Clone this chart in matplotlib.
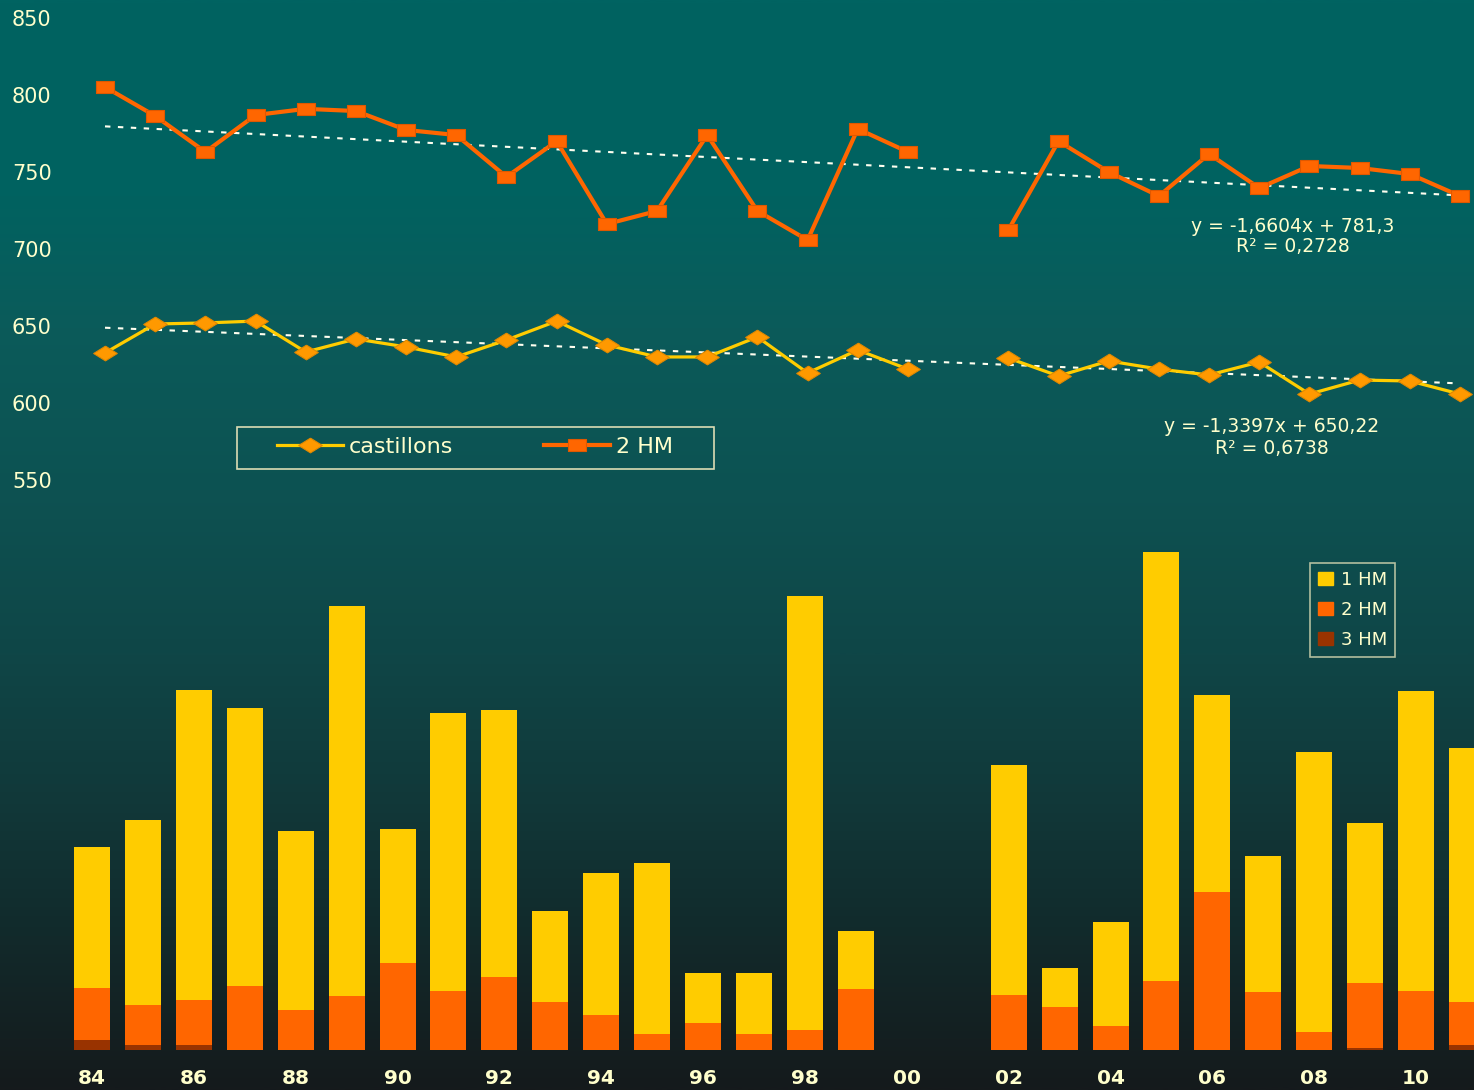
import numpy as np
import matplotlib
matplotlib.use('Agg')
import matplotlib.pyplot as plt
from matplotlib.colors import LinearSegmentedColormap
from matplotlib.lines import Line2D
from matplotlib.patches import Rectangle, Patch

plt.rcParams['font.family'] = ['DejaVu Sans']

# ---------------- data ----------------
years = ['84', '85', '86', '87', '88', '89', '90', '91', '92', '93', '94', '95', '96', '97',
         '98', '99', '00', '01', '02', '03', '04', '05', '06', '07', '08', '09', '10', '11']
nan = np.nan
castillons = [632.5, 651.3, 652.0, 653.2, 633.1, 641.6, 636.4, 629.9, 640.9, 653.2, 637.7, 629.9,
              629.9, 642.9, 619.5, 634.4, 622.0, nan, 629.2, 617.5, 627.3, 622.0, 618.2, 626.6,
              605.8, 614.9, 614.3, 605.8]
hm2_line = [805.2, 786.4, 763.0, 787.0, 791.0, 789.6, 777.3, 774.0, 746.8, 770.0, 716.2, 724.7,
            774.0, 724.7, 705.8, 778.0, 763.0, nan, 712.3, 770.0, 750.0, 734.4, 761.7, 739.6,
            753.9, 752.6, 748.7, 734.4]
# linear trends (as printed on the chart, x = 1..28)
trend_castillons = [-1.3397, 650.22]
trend_hm2 = [-1.6604, 781.3]
trend_text_castillons = ['y = -1,3397x + 650,22', 'R² = 0,6738']
trend_text_hm2 = ['y = -1,6604x + 781,3', 'R² = 0,2728']

bar_1hm = [141, 185, 310, 278, 179, 390, 134, 278, 267, 91, 142, 171, 50, 61, 434, 58, 0, 0,
           230, 39, 104, 429, 197, 136, 280, 160, 300, 254]
bar_2hm = [52, 40, 45, 64, 40, 54, 87, 59, 73, 48, 35, 16, 27, 16, 20, 61, 0, 0,
           55, 43, 24, 69, 158, 58, 18, 65, 59, 43]
bar_3hm = [10, 5, 5, 0, 0, 0, 0, 0, 0, 0, 0, 0, 0, 0, 0, 0, 0, 0,
           0, 0, 0, 0, 0, 0, 0, 2, 0, 5]
y_ticks = [550, 600, 650, 700, 750, 800, 850]

# ---------------- styling ----------------
W, H = 1474, 1090
CREAM = '#ffffcc'
C_YEL_LINE = '#ffcc00'
C_DIAM = '#ff9900'
C_ORANGE = '#ff6600'
C_1HM = '#ffcc00'
C_2HM = '#ff6600'
C_3HM = '#993300'

def fx(px):
    return px / W

def fy(py):
    return 1 - py / H

fig = plt.figure(figsize=(W / 100, H / 100), dpi=100)

# background gradient
bg = fig.add_axes([0, 0, 1, 1], zorder=0)
cmap = LinearSegmentedColormap.from_list('bg', [
    (0.0, '#006361'), (0.18, '#016260'), (0.30, '#0b5b5a'), (0.45, '#0d5252'),
    (0.60, '#0f4647'), (0.72, '#113a3b'), (0.86, '#122a2b'), (1.0, '#151a1c')])
grad = np.linspace(0, 1, 512).reshape(-1, 1)
bg.imshow(grad, aspect='auto', cmap=cmap, extent=[0, 1, 0, 1], origin='upper')
bg.set_axis_off()

x = np.arange(len(years))

# ---------------- line chart ----------------
ppu = (1460 - 105) / 27.0
ax1 = fig.add_axes([0, fy(480), 1, (480 - 18) / H], zorder=2)
ax1.patch.set_alpha(0)
ax1.set_xlim(-105 / ppu, (W - 105) / ppu)
ax1.set_ylim(550, 850)

xt = np.array([x[0], x[-1]])
ax1.plot(xt, trend_hm2[0] * (xt + 1) + trend_hm2[1], color='#fffff0', lw=1.5,
         linestyle=(0, (2.6, 3.6)), zorder=2)
ax1.plot(xt, trend_castillons[0] * (xt + 1) + trend_castillons[1], color='#fffff0', lw=1.5,
         linestyle=(0, (2.6, 3.6)), zorder=2)

sq = [(-1.5, -1), (1.5, -1), (1.5, 1), (-1.5, 1), (-1.5, -1)]
dia = [(0, 1), (1.6, 0), (0, -1), (-1.6, 0), (0, 1)]
ax1.plot(x, hm2_line, color=C_ORANGE, lw=3, marker=sq, ms=13, mfc=C_ORANGE,
         mec='#e05800', mew=0.8, zorder=3, clip_on=False)
ax1.plot(x, castillons, color=C_YEL_LINE, lw=2.3, marker=dia, ms=17, mfc=C_DIAM,
         mec='#e08800', mew=0.8, zorder=4, clip_on=False)

ax1.set_yticks(y_ticks)
ax1.set_yticklabels([str(v) for v in y_ticks])
ax1.tick_params(axis='y', length=0, pad=-8.6, labelsize=15, labelcolor=CREAM)
for lab in ax1.get_yticklabels():
    lab.set_horizontalalignment('left')
ax1.set_xticks([])
for s in ax1.spines.values():
    s.set_visible(False)

# trend equations
fig.text(fx(1293), fy(226), trend_text_hm2[0], ha='center', va='center', fontsize=13.5, color=CREAM)
fig.text(fx(1293), fy(247), trend_text_hm2[1], ha='center', va='center', fontsize=13.5, color=CREAM)
fig.text(fx(1272), fy(427), trend_text_castillons[0], ha='center', va='center', fontsize=13.5, color=CREAM)
fig.text(fx(1272), fy(448), trend_text_castillons[1], ha='center', va='center', fontsize=13.5, color=CREAM)

# line legend
fig.patches.append(Rectangle((fx(237), fy(469)), fx(714) - fx(237), fy(427) - fy(469),
                             transform=fig.transFigure, fill=False, edgecolor='#dcdcb4',
                             lw=1.2, zorder=5))
h1 = Line2D([], [], color=C_YEL_LINE, lw=2.3, marker=dia, ms=17, mfc=C_DIAM, mec='#e08800', mew=0.8)
h2 = Line2D([], [], color=C_ORANGE, lw=3, marker=sq, ms=13, mfc=C_ORANGE, mec='#e05800', mew=0.8)
leg1 = fig.legend([h1, h2], ['castillons', '2 HM'], loc='center left',
                  bbox_to_anchor=(fx(277), fy(447)), bbox_transform=fig.transFigure,
                  ncol=2, frameon=False, fontsize=16, labelcolor=CREAM, borderpad=0,
                  borderaxespad=0, handlelength=2.97, handletextpad=0.27, columnspacing=4.1)

# ---------------- bar chart ----------------
bppu = (1467 - 92) / 27.0
ax2 = fig.add_axes([0, fy(1050), 1, 550 / H], zorder=2)
ax2.patch.set_alpha(0)
ax2.set_xlim(-92 / bppu, (W - 92) / bppu)
ax2.set_ylim(0, 550)
b3 = np.array(bar_3hm, dtype=float)
b2 = np.array(bar_2hm, dtype=float)
b1 = np.array(bar_1hm, dtype=float)
bw = 36 / bppu
ax2.bar(x, b3, width=bw, color=C_3HM, linewidth=0, label='3 HM')
ax2.bar(x, b2, width=bw, bottom=b3, color=C_2HM, linewidth=0, label='2 HM')
ax2.bar(x, b1, width=bw, bottom=b3 + b2, color=C_1HM, linewidth=0, label='1 HM')
ax2.set_yticks([])
ax2.set_xticks(x[::2])
ax2.set_xticklabels(years[::2])
ax2.tick_params(axis='x', length=0, pad=14, labelsize=14.5, labelcolor=CREAM)
for lab in ax2.get_xticklabels():
    lab.set_fontweight('bold')
for s in ax2.spines.values():
    s.set_visible(False)

leg2 = fig.legend([Patch(color=C_1HM), Patch(color=C_2HM), Patch(color=C_3HM)],
                  ['1 HM', '2 HM', '3 HM'], loc='upper left',
                  bbox_to_anchor=(fx(1310), fy(563)), bbox_transform=fig.transFigure,
                  fontsize=13, labelcolor=CREAM, frameon=True, fancybox=False,
                  borderpad=0.45, borderaxespad=0, handlelength=0.85, handleheight=0.7,
                  handletextpad=0.4, labelspacing=0.65)
leg2.get_frame().set_facecolor('none')
leg2.get_frame().set_edgecolor('#dcdcb4')
leg2.get_frame().set_linewidth(1.2)

fig.savefig('out.png', dpi=100)
